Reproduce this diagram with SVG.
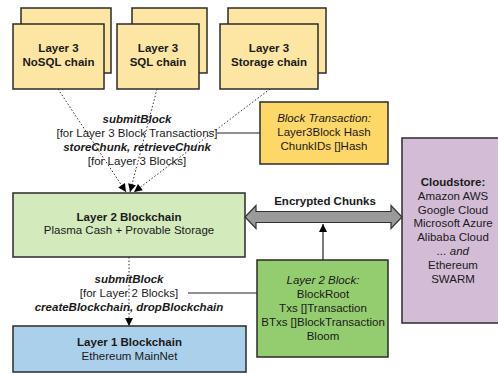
<svg xmlns="http://www.w3.org/2000/svg" width="498" height="374" viewBox="0 0 498 374">
  <style>
    .box { stroke: #2b2b2b; stroke-width: 1.5; }
    .l3 { fill: #fde6a3; }
    .gold { fill: #fdd767; }
    .l2 { fill: #d3eabd; }
    .blk { fill: #94cd70; }
    .cloud { fill: #d3bcd6; }
    .l1 { fill: #abd0ec; }
    text { font-family: "Liberation Sans", Arial, sans-serif; font-size: 11.5px; fill: #1a1a1a; text-anchor: middle; dominant-baseline: central; }
    .b { font-weight: bold; }
    .i { font-style: italic; }
    .bi { font-weight: bold; font-style: italic; }
    .dot { fill: none; stroke: #333; stroke-width: 1; stroke-dasharray: 1.5 2; }
    .solid { fill: none; stroke: #222; stroke-width: 1.2; }
  </style>
  <defs>
    <marker id="arr" viewBox="0 0 10 10" refX="10" refY="5" markerWidth="9" markerHeight="8" markerUnits="userSpaceOnUse" orient="auto">
      <path d="M0,0 L10,5 L0,10 Z" fill="#000"/>
    </marker>
  </defs>

  <!-- Layer 3 chains (stacked cards) -->
  <g id="nosql">
    <rect class="box l3" x="21" y="8" width="90" height="65"/>
    <rect class="box l3" x="13" y="24" width="91" height="65"/>
    <text class="b" x="58.5" y="48">Layer 3</text>
    <text class="b" x="58.5" y="62">NoSQL chain</text>
  </g>
  <g id="sql">
    <rect class="box l3" x="132" y="8" width="75" height="65"/>
    <rect class="box l3" x="117" y="24" width="82" height="65"/>
    <text class="b" x="158" y="48">Layer 3</text>
    <text class="b" x="158" y="62">SQL chain</text>
  </g>
  <g id="storage">
    <rect class="box l3" x="228" y="8" width="98" height="65"/>
    <rect class="box l3" x="220" y="24" width="98" height="65"/>
    <text class="b" x="269" y="48">Layer 3</text>
    <text class="b" x="269" y="62">Storage chain</text>
  </g>

  <!-- Block transaction record -->
  <g id="block-transaction">
    <rect class="box gold" x="260" y="102" width="128" height="62"/>
    <text class="i" x="324" y="118">Block Transaction:</text>
    <text x="324" y="132">Layer3Block Hash</text>
    <text x="324" y="146">ChunkIDs []Hash</text>
  </g>

  <!-- Cloud storage providers -->
  <g id="cloudstore">
    <rect class="box cloud" x="402" y="138" width="110" height="185"/>
    <text class="b" x="453" y="182">Cloudstore:</text>
    <text x="453" y="196">Amazon AWS</text>
    <text x="453" y="210">Google Cloud</text>
    <text x="453" y="223">Microsoft Azure</text>
    <text x="453" y="237">Alibaba Cloud</text>
    <text class="i" x="453" y="251">... and</text>
    <text x="453" y="265">Ethereum</text>
    <text x="453" y="279">SWARM</text>
  </g>

  <!-- Layer 2 -->
  <g id="layer2">
    <rect class="box l2" x="13" y="193" width="232" height="64"/>
    <text class="b" x="129" y="217">Layer 2 Blockchain</text>
    <text x="129" y="230">Plasma Cash + Provable Storage</text>
  </g>

  <g id="layer2-block">
    <rect class="box blk" x="257" y="260" width="131" height="97"/>
    <text class="i" x="323" y="280">Layer 2 Block:</text>
    <text x="323" y="294">BlockRoot</text>
    <text x="323" y="308">Txs []Transaction</text>
    <text x="323" y="322">BTxs []BlockTransaction</text>
    <text x="323" y="336">Bloom</text>
  </g>

  <!-- Layer 1 -->
  <g id="layer1">
    <rect class="box l1" x="13" y="326" width="233" height="46"/>
    <text class="b" x="129.5" y="342">Layer 1 Blockchain</text>
    <text x="129.5" y="356">Ethereum MainNet</text>
  </g>

  <!-- Connectors -->
  <g id="connectors">
    <path class="dot" d="M58,89 L126,192" marker-end="url(#arr)"/>
    <path class="dot" d="M157,89 L130,192" marker-end="url(#arr)"/>
    <path class="dot" d="M270,89 L134,192" marker-end="url(#arr)"/>
    <path class="solid" d="M217,133 L260,133"/>

    <path class="dot" d="M129,257 L129,326" marker-end="url(#arr)"/>
    <path class="solid" d="M188,293 L257,293"/>

    <!-- two-way transfer arrow -->
    <path d="M245,217 L256,205.5 L256,211.5 L391,211.5 L391,205.5 L402,217 L391,228.5 L391,222.5 L256,222.5 L256,228.5 Z" fill="#9a9a9a" stroke="#333" stroke-width="1.2"/>
    <path class="solid" d="M323,260 L323,224" marker-end="url(#arr)"/>
  </g>

  <!-- Connector labels -->
  <g id="labels">
    <text class="bi" x="137" y="119">submitBlock</text>
    <text x="137" y="133">[for Layer 3 Block Transactions]</text>
    <text class="bi" x="137" y="147">storeChunk, retrieveChunk</text>
    <text x="137" y="161">[for Layer 3 Blocks]</text>

    <text class="b" x="325" y="201">Encrypted Chunks</text>

    <text class="bi" x="129" y="279">submitBlock</text>
    <text x="129" y="293">[for Layer 2 Blocks]</text>
    <text class="bi" x="129" y="307">createBlockchain, dropBlockchain</text>
  </g>
</svg>
